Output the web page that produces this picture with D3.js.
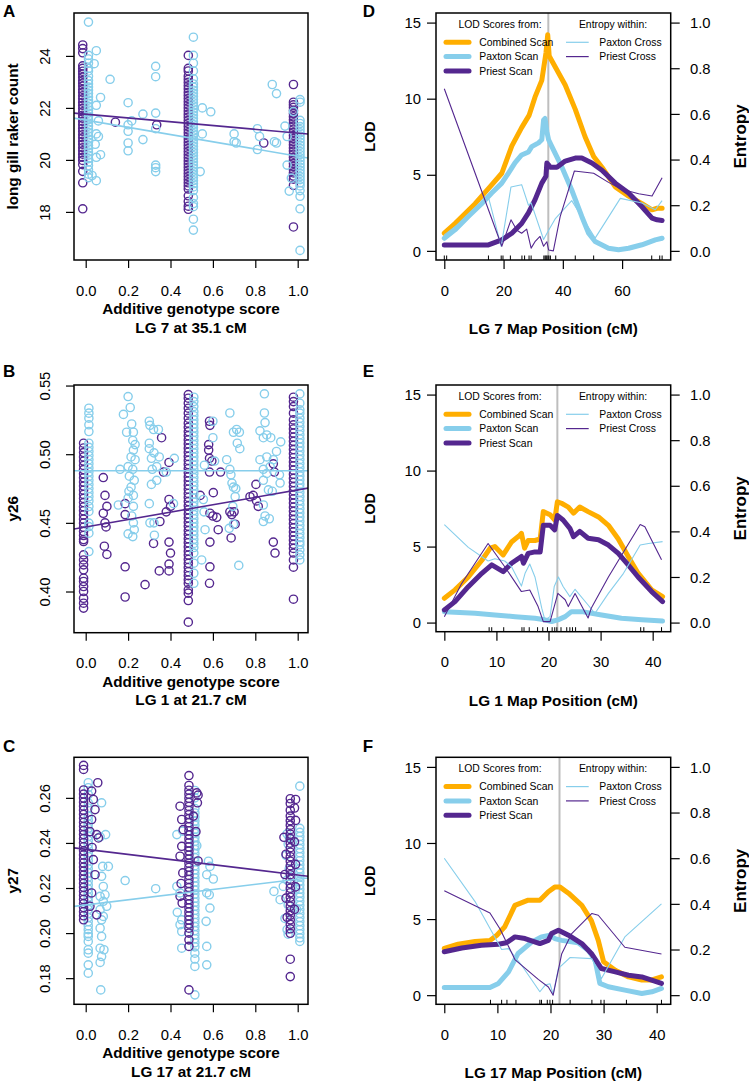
<!DOCTYPE html>
<html><head><meta charset="utf-8">
<script src="https://cdn.jsdelivr.net/npm/d3@7"></script>
<style>body{margin:0;background:#fff}svg{display:block}</style>
</head><body><svg id="c" width="749" height="1082"></svg>
<script>
// ---------------- DATA ----------------
const scoreTicks = [0, 0.2, 0.4, 0.6, 0.8, 1.0];
const A_yTicks = [18, 20, 22, 24];
const B_yTicks = [0.40, 0.45, 0.50, 0.55];
const C_yTicks = [0.18, 0.20, 0.22, 0.24, 0.26];
const lodTicks = [0, 5, 10, 15];
const entTicks = [0, 0.2, 0.4, 0.6, 0.8, 1.0];
const D_xTicks = [0, 20, 40, 60];
const E_xTicks = [0, 10, 20, 30, 40];
const F_xTicks = [0, 10, 20, 30, 40];

// Panel A: long gill raker count
const A_priestColX = [-0.014, 0.484, 0.98];
const A_priestCols = [
 [24.42,24.28,24.12,23.62,23.52,23.41,23.30,23.18,23.05,22.95,22.84,22.71,22.60,22.47,22.35,22.22,22.10,21.98,21.85,21.72,21.60,21.48,21.35,21.22,21.10,20.97,20.85,20.72,20.60,20.47,20.35,20.22,20.10,19.98,19.82,19.56,19.12,18.12],
 [24.02,23.52,23.42,23.22,23.10,22.98,22.85,22.73,22.60,22.48,22.36,22.24,22.12,22.00,21.88,21.76,21.64,21.52,21.40,21.28,21.16,21.04,20.92,20.80,20.68,20.56,20.44,20.32,20.20,20.08,19.96,19.84,19.72,19.60,19.48,19.36,19.24,19.12,19.00,18.88,18.62,18.40,18.22,18.10],
 [22.90,22.22,22.12,22.02,21.90,21.78,21.66,21.54,21.42,21.30,21.18,21.06,20.94,20.82,20.70,20.58,20.46,20.34,20.22,20.10,19.98,19.86,19.74,19.62,19.50,19.38,19.26,19.02,17.42]
];
const A_priestPts = [[0.14,21.45],[0.335,21.35],[0.84,20.65]];
const A_paxtonColX = [0.013, 0.508, 1.011];
const A_paxtonCols = [
 [25.30,24.02,23.88,23.72,23.52,23.42,23.22,23.05,22.92,22.80,22.68,22.55,22.42,22.30,22.18,22.05,21.92,21.80,21.68,21.55,21.42,21.30,21.18,21.05,20.92,20.80,20.68,20.55,20.42,20.30,20.18,20.05,19.92,19.78,19.62,19.45,19.32],
 [24.72,24.02,23.72,23.42,23.12,22.92,22.80,22.68,22.56,22.44,22.32,22.20,22.08,21.96,21.84,21.72,21.60,21.48,21.36,21.24,21.12,21.00,20.88,20.76,20.64,20.52,20.40,20.28,20.16,20.04,19.92,19.80,19.68,19.56,19.44,19.32,19.20,19.08,18.96,18.82,18.55,18.32,18.20,17.72,17.30],
 [22.32,22.22,21.52,21.40,21.28,21.16,21.04,20.92,20.80,20.68,20.56,20.44,20.32,20.20,20.08,19.96,19.84,19.72,19.60,19.48,19.36,19.24,19.12,19.00,18.82,18.60,18.12,16.52]
];
const A_paxtonPts = [[0.05,24.2],[0.04,23.7],[0.07,22.4],[0.05,22.1],[0.06,21.5],[0.05,21.0],[0.06,20.9],[0.045,20.6],[0.07,20.2],[0.05,20.1],[0.05,19.2],[0.03,19.4],[0.115,23.1],[0.2,22.2],[0.217,21.5],[0.2,21.35],[0.2,21.1],[0.2,20.65],[0.2,20.35],[0.27,21.76],[0.27,20.78],[0.33,23.6],[0.33,23.2],[0.33,21.8],[0.33,21.2],[0.33,19.8],[0.33,19.7],[0.33,19.55],[0.54,19.55],[0.55,22.0],[0.59,21.85],[0.55,21.0],[0.7,21.0],[0.7,20.7],[0.71,20.65],[0.81,21.2],[0.82,20.9],[0.81,20.4],[0.88,22.9],[0.9,22.55],[0.89,20.7],[0.9,20.65],[0.94,21.3],[0.95,20.9],[0.95,19.8],[0.98,21.86],[0.97,19.3],[0.96,18.8]];
const A_fitPriest = [21.76, -0.73];
const A_fitPaxton = [21.53, -1.39];

// Panel B: y26
const B_priestColX = [-0.01, 0.484, 0.98];
const B_priestCols = [
 [0.508,0.5045,0.5012,0.498,0.495,0.4918,0.4888,0.4857,0.4828,0.4797,0.4768,0.4738,0.4707,0.4678,0.4648,0.4617,0.4588,0.4558,0.4527,0.4498,0.4468,0.4437,0.4408,0.4378,0.4364,0.4267,0.423,0.4194,0.4158,0.4097,0.4073,0.4036,0.4,0.3951,0.3915,0.3879],
 [0.5434,0.5408,0.5371,0.5335,0.5299,0.5262,0.5226,0.5196,0.5165,0.5135,0.5104,0.5075,0.5044,0.5015,0.4984,0.4955,0.4925,0.4894,0.4865,0.4834,0.4805,0.4774,0.4745,0.4714,0.4685,0.4655,0.4624,0.4595,0.4564,0.4535,0.4504,0.4475,0.4444,0.4415,0.4384,0.4355,0.4325,0.4294,0.4265,0.4234,0.4205,0.4175,0.4144,0.4115,0.4085,0.406,0.4012,0.3988,0.3934,0.3777],
 [0.5415,0.5383,0.5347,0.5299,0.525,0.5214,0.5184,0.5154,0.5124,0.5094,0.5064,0.5034,0.5004,0.4974,0.4944,0.4914,0.4884,0.4854,0.4824,0.4794,0.4764,0.4734,0.4704,0.4674,0.4644,0.4614,0.4584,0.4554,0.4524,0.4494,0.4464,0.4434,0.4404,0.4374,0.4344,0.4314,0.428,0.423,0.4177,0.3944]
];
const B_priestPts = [[0.083,0.483],[0.091,0.47],[0.1,0.462],[0.083,0.457],[0.091,0.45],[0.096,0.447],[0.088,0.433],[0.1,0.427],[0.186,0.464],[0.186,0.456],[0.186,0.418],[0.186,0.396],[0.28,0.405],[0.32,0.435],[0.35,0.451],[0.358,0.512],[0.367,0.487],[0.347,0.415],[0.393,0.494],[0.393,0.467],[0.4,0.462],[0.38,0.458],[0.393,0.436],[0.4,0.428],[0.393,0.42],[0.393,0.415],[0.584,0.524],[0.586,0.521],[0.58,0.507],[0.58,0.503],[0.584,0.497],[0.595,0.495],[0.584,0.487],[0.602,0.472],[0.54,0.47],[0.586,0.457],[0.6,0.455],[0.618,0.454],[0.625,0.445],[0.586,0.436],[0.586,0.418],[0.584,0.406],[0.636,0.487],[0.68,0.458],[0.689,0.456],[0.7,0.458],[0.686,0.439],[0.705,0.449],[0.775,0.469],[0.79,0.47],[0.803,0.478],[0.806,0.466],[0.814,0.462],[0.885,0.493],[0.89,0.487],[0.885,0.436],[0.893,0.428]];
const B_paxtonColX = [0.015, 0.51, 1.01];
const B_paxtonCols = [
 [0.5335,0.5299,0.5262,0.5214,0.5165,0.508,0.505,0.502,0.499,0.496,0.493,0.49,0.487,0.484,0.481,0.478,0.475,0.472,0.469,0.466,0.4619,0.4583,0.4498,0.4473,0.4425,0.4291],
 [0.5415,0.5383,0.5347,0.531,0.528,0.525,0.522,0.519,0.516,0.513,0.51,0.507,0.504,0.501,0.498,0.495,0.492,0.489,0.486,0.483,0.48,0.477,0.474,0.471,0.468,0.465,0.462,0.459,0.456,0.453,0.45,0.447,0.444,0.441,0.438,0.435,0.432,0.428,0.4206,0.4133,0.406],
 [0.5439,0.5371,0.5323,0.5299,0.5262,0.5232,0.5202,0.5172,0.5142,0.5112,0.5082,0.5052,0.5022,0.4992,0.4962,0.4932,0.4902,0.4872,0.4842,0.4812,0.4782,0.4752,0.4722,0.4692,0.4662,0.4632,0.4602,0.4572,0.4542,0.4512,0.4482,0.4452,0.4422,0.4392,0.4362,0.434,0.4303,0.4267,0.423]
];
const B_paxtonPts = [[0.2,0.542],[0.21,0.534],[0.178,0.529],[0.217,0.522],[0.193,0.516],[0.225,0.516],[0.222,0.51],[0.233,0.507],[0.225,0.503],[0.214,0.498],[0.233,0.496],[0.2,0.491],[0.222,0.489],[0.162,0.489],[0.206,0.484],[0.229,0.481],[0.214,0.476],[0.204,0.473],[0.225,0.47],[0.154,0.463],[0.2,0.468],[0.225,0.462],[0.217,0.455],[0.225,0.45],[0.2,0.442],[0.222,0.44],[0.229,0.445],[0.3,0.524],[0.303,0.521],[0.32,0.518],[0.343,0.518],[0.3,0.508],[0.3,0.504],[0.322,0.501],[0.31,0.497],[0.347,0.498],[0.335,0.491],[0.314,0.489],[0.335,0.481],[0.31,0.478],[0.3,0.464],[0.322,0.45],[0.303,0.45],[0.324,0.441],[0.418,0.497],[0.414,0.464],[0.38,0.487],[0.6,0.524],[0.6,0.512],[0.56,0.492],[0.608,0.495],[0.555,0.467],[0.558,0.458],[0.563,0.445],[0.547,0.423],[0.68,0.53],[0.665,0.496],[0.68,0.489],[0.697,0.516],[0.712,0.518],[0.725,0.516],[0.715,0.508],[0.727,0.504],[0.685,0.485],[0.69,0.479],[0.697,0.476],[0.708,0.475],[0.705,0.469],[0.694,0.462],[0.697,0.449],[0.677,0.446],[0.722,0.419],[0.843,0.544],[0.843,0.53],[0.846,0.523],[0.822,0.517],[0.854,0.514],[0.838,0.512],[0.873,0.512],[0.822,0.496],[0.854,0.498],[0.838,0.489],[0.854,0.486],[0.87,0.491],[0.885,0.496],[0.9,0.502],[0.838,0.481],[0.862,0.474],[0.88,0.473],[0.838,0.463],[0.846,0.455],[0.838,0.451],[0.866,0.453],[0.92,0.509],[0.914,0.485],[0.917,0.479]];
const B_fitPriest = [0.447, 0.027];
const B_fitPaxton = [0.488, 0.0];

// Panel C: y27
const C_priestColX = [-0.01, 0.487, 0.965];
const C_priestCols = [
 [0.2744,0.2726,0.2635,0.2617,0.2599,0.2581,0.2563,0.2545,0.2527,0.2509,0.2491,0.2473,0.2455,0.2437,0.2419,0.2401,0.2383,0.2365,0.2347,0.2329,0.2311,0.2293,0.2275,0.2257,0.2239,0.2221,0.2203,0.2185,0.2167,0.2149,0.2131,0.2113,0.2095,0.2077,0.2059],
 [0.2699,0.2655,0.2634,0.2616,0.2598,0.258,0.2562,0.2544,0.2526,0.2508,0.249,0.2472,0.2454,0.2436,0.2418,0.24,0.2382,0.2364,0.2346,0.2328,0.231,0.2292,0.2274,0.2256,0.2238,0.222,0.2202,0.2184,0.2166,0.2148,0.213,0.2112,0.2094,0.2076,0.2058,0.204,0.2022,0.2,0.197,0.1941,0.1748],
 [0.2596,0.2575,0.2545,0.2519,0.2499,0.2479,0.2459,0.2439,0.2419,0.2399,0.2379,0.2359,0.2339,0.2319,0.2299,0.2279,0.2259,0.2239,0.2219,0.2199,0.2179,0.2159,0.2139,0.2119,0.2099,0.2079,0.2059,0.2039,0.2019,0.1999,0.1884,0.1807]
];
const C_priestPts = [[0.057,0.2667],[0.028,0.263],[0.036,0.2593],[0.044,0.2548],[0.028,0.2504],[0.052,0.2437],[0.06,0.2422],[0.036,0.2326],[0.044,0.2259],[0.028,0.2178],[0.02,0.2119],[0.052,0.2081],[0.02,0.245],[0.03,0.238],[0.445,0.2563],[0.453,0.2504],[0.46,0.2459],[0.453,0.2385],[0.445,0.2341],[0.458,0.2267],[0.45,0.222],[0.445,0.2163],[0.455,0.2133],[0.524,0.2622],[0.53,0.2612],[0.508,0.2519],[0.527,0.2578],[0.52,0.245],[0.53,0.232],[0.935,0.2425],[0.945,0.235],[0.94,0.226],[0.99,0.2593],[0.985,0.2555],[0.99,0.25],[0.985,0.2405],[0.99,0.2305],[0.99,0.2205],[0.985,0.2105],[0.945,0.2155],[0.95,0.207]];
const C_paxtonColX = [0.012, 0.515, 1.01];
const C_paxtonCols = [
 [0.2667,0.2645,0.2615,0.2578,0.2555,0.2519,0.2501,0.2483,0.2465,0.2447,0.2429,0.2411,0.2393,0.2375,0.2357,0.2339,0.2321,0.2303,0.2285,0.2267,0.2249,0.2231,0.2213,0.2195,0.2177,0.2159,0.2141,0.2123,0.2105,0.2087,0.2069,0.2051,0.2033,0.2015,0.1997,0.1985,0.1963,0.1926,0.1911,0.1859,0.1822],
 [0.2633,0.26,0.2553,0.2533,0.2515,0.2497,0.2479,0.2461,0.2443,0.2425,0.2407,0.2389,0.2371,0.2353,0.2335,0.2317,0.2299,0.2281,0.2263,0.2245,0.2227,0.2209,0.2191,0.2173,0.2155,0.2137,0.2119,0.2101,0.2083,0.2065,0.2047,0.2029,0.2011,0.1993,0.1975,0.1957,0.1939,0.1911,0.1885,0.1852,0.1726],
 [0.2652,0.2465,0.2447,0.2429,0.2411,0.2393,0.2375,0.2357,0.2339,0.2321,0.2303,0.2285,0.2267,0.2249,0.2231,0.2213,0.2195,0.2177,0.2159,0.2141,0.2123,0.2105,0.2087,0.2069,0.2051,0.2033,0.2015,0.1997,0.1979,0.1963]
];
const C_paxtonPts = [[0.075,0.2578],[0.094,0.2437],[0.068,0.2427],[0.107,0.2296],[0.08,0.2296],[0.075,0.2252],[0.083,0.2207],[0.091,0.217],[0.068,0.2163],[0.083,0.2141],[0.099,0.2119],[0.068,0.2104],[0.083,0.2074],[0.075,0.2059],[0.068,0.2022],[0.075,0.1985],[0.068,0.1933],[0.086,0.1926],[0.075,0.1896],[0.068,0.187],[0.071,0.1748],[0.186,0.2233],[0.33,0.2197],[0.43,0.2437],[0.458,0.2452],[0.43,0.2207],[0.445,0.2178],[0.432,0.2092],[0.453,0.2059],[0.445,0.2037],[0.453,0.2007],[0.453,0.1933],[0.524,0.2388],[0.579,0.2319],[0.586,0.2296],[0.571,0.2259],[0.602,0.224],[0.571,0.2178],[0.583,0.217],[0.586,0.2111],[0.568,0.2052],[0.571,0.1941],[0.571,0.1859],[0.888,0.2185],[0.917,0.2148],[0.932,0.2207],[0.95,0.244],[0.955,0.2395],[0.945,0.2345],[0.96,0.2285],[0.95,0.2235],[0.955,0.2125],[0.94,0.2065],[0.95,0.2015],[0.955,0.1995],[0.99,0.2195],[0.995,0.2105],[0.96,0.2425]];
const C_fitPriest = [0.2372, -0.0114];
const C_fitPaxton = [0.2125, 0.0114];

// Panel D: LG 7 scans  [cM, LOD] and [cM, entropy]
const D_combined = [[0,1.16],[3.6,1.8],[10.4,3.1],[15.4,4.2],[19.4,5.1],[22.8,6.9],[26.1,8.1],[28.6,8.9],[30.6,10.1],[32.9,11.2],[34.3,13.0],[34.9,14.2],[35.4,12.8],[37.4,12.1],[40.8,10.9],[44.2,9.3],[47.5,7.5],[50.4,6.2],[53.2,5.5],[57.7,4.2],[62.2,3.6],[66.7,3.1],[70.1,2.7],[71.8,2.8],[73.5,2.8]];
const D_paxton = [[0,0.83],[3.6,1.38],[8.1,2.26],[12.6,3.1],[16.0,3.8],[19.4,4.45],[21.6,5.1],[23.9,5.8],[26.1,6.3],[28.4,6.5],[29.5,6.85],[31.8,7.1],[32.9,7.3],[33.5,8.6],[34.0,8.7],[34.6,7.85],[35.2,7.3],[36.3,6.85],[39.7,5.5],[43.0,4.0],[46.4,2.26],[48.7,1.16],[50.9,0.61],[55.4,0.17],[58.8,0.07],[62.2,0.17],[66.7,0.4],[71.2,0.72],[73.5,0.83]];
const D_priest = [[0,0.39],[14.9,0.39],[19.4,0.72],[22.8,1.16],[26.1,1.8],[28.4,2.5],[30.6,3.35],[32.9,4.45],[34.3,4.9],[34.6,5.77],[35.2,5.65],[35.7,5.5],[38.0,5.5],[40.8,5.9],[44.2,6.1],[46.4,6.1],[49.8,5.77],[53.2,5.3],[57.7,4.45],[62.2,3.8],[66.7,2.9],[70.1,2.15],[71.8,2.04],[73.5,2.0]];
const D_entPaxton = [[0,0.07],[10,0.17],[15,0.23],[19.2,0.02],[22.5,0.28],[26.1,0.29],[28.4,0.2],[29.3,0.21],[33.5,0.05],[35.2,0.09],[37.4,0.14],[43.0,0.22],[50.9,0.056],[59.4,0.23],[66.7,0.21],[71.2,0.18],[73.5,0.22]];
const D_entPriest = [[0,0.71],[19.4,0.02],[22.5,0.136],[24.5,0.09],[26.1,0.077],[27.8,0.095],[29.3,0.012],[30.6,0.04],[32.3,0.063],[33.5,0.02],[34.6,0.04],[35.2,0.004],[36.8,0.0],[39.1,0.15],[43.9,0.35],[50.4,0.34],[55.4,0.30],[59.9,0.27],[65.6,0.25],[70.1,0.24],[73.5,0.32]];
const D_markers = [0,0.8,14.9,19.2,19.8,22.3,26.2,27.1,28.6,29.3,33.6,34.0,34.3,34.6,35.0,35.3,35.8,37.6,44.2,50.4,70.0,72.7,73.5];

// Panel E: LG 1
const E_combined = [[0,1.6],[2.05,2.15],[4.6,3.0],[7.2,4.1],[8.8,4.9],[9.7,5.0],[11.3,4.45],[12.9,5.3],[14.5,5.75],[14.8,5.87],[15.4,4.9],[16.1,5.4],[17.4,5.4],[18.4,5.5],[19.0,7.3],[20.3,7.1],[21.2,6.75],[21.7,7.95],[22.5,7.85],[23.8,7.6],[24.8,7.2],[26.0,7.6],[27.6,7.3],[29.6,6.95],[31.5,6.4],[33.4,5.5],[35.3,4.35],[37.2,3.25],[39.8,2.15],[41.9,1.7]];
const E_paxton = [[0,0.72],[5.9,0.61],[9.7,0.5],[13.6,0.39],[17.4,0.28],[19.3,0.18],[20.6,0.07],[21.8,0.18],[23.2,0.39],[24.4,0.72],[26.4,0.72],[30.2,0.5],[34.0,0.28],[37.9,0.18],[41.9,0.1]];
const E_priest = [[0,0.83],[2.05,1.38],[4.6,2.36],[7.2,3.24],[9.1,3.8],[11.3,3.35],[12.9,3.9],[14.8,4.35],[15.2,3.9],[16.1,4.55],[17.4,4.65],[18.4,4.65],[19.0,6.4],[20.3,6.4],[21.2,6.1],[21.7,7.05],[22.8,6.75],[24.1,6.2],[24.8,5.65],[26.0,6.0],[27.6,5.55],[29.6,5.45],[31.5,5.1],[33.4,4.55],[35.3,3.8],[37.2,3.0],[39.8,2.04],[41.9,1.38]];
const E_entPaxton = [[0,0.43],[4.6,0.33],[8.4,0.27],[9.7,0.28],[11.6,0.27],[12.9,0.245],[14.8,0.16],[15.5,0.216],[16.4,0.257],[17.4,0.2],[18.7,0.063],[19.3,0.012],[20.3,0.026],[21.1,0.158],[21.9,0.2],[22.8,0.158],[24.1,0.114],[25.1,0.146],[27.6,0.077],[28.9,0.04],[31.5,0.128],[34.4,0.216],[37.6,0.34],[39.2,0.347],[41.9,0.355]];
const E_entPriest = [[0,0.026],[3.3,0.17],[8.4,0.347],[11.6,0.245],[14.8,0.136],[16.4,0.143],[18.0,0.07],[19.0,0.004],[20.3,0.004],[21.8,0.128],[23.2,0.1],[23.8,0.07],[25.1,0.128],[27.6,0.02],[28.2,0.063],[31.5,0.2],[37.6,0.43],[38.5,0.42],[41.7,0.276]];
const E_markers = [8.6,9.1,11.4,14.9,15.3,16.3,17.9,18.9,19.8,20.7,21.2,21.6,22.4,23.5,24.1,24.6,25.2,27.8,28.2,37.7,38.3,41.7];

// Panel F: LG 17
const F_combined = [[0,3.07],[2.6,3.35],[5.8,3.53],[8.6,3.6],[9.9,3.94],[11.4,4.5],[13.3,5.9],[15.8,6.24],[18.0,6.24],[19.6,6.8],[20.8,7.1],[21.8,7.1],[23.4,6.7],[25.9,5.9],[27.7,4.9],[29.0,3.6],[30.0,2.2],[32.2,1.64],[34.7,1.2],[37.2,1.0],[39.1,1.0],[40.9,1.2]];
const F_paxton = [[0,0.5],[8.6,0.5],[10.2,0.77],[12.1,1.53],[13.9,2.74],[16.5,3.5],[18.3,3.83],[19.9,3.94],[20.8,3.72],[22.1,3.6],[25.2,3.44],[27.1,2.96],[28.4,2.3],[29.3,0.77],[30.9,0.55],[34.0,0.33],[37.2,0.11],[39.1,0.22],[40.9,0.44]];
const F_priest = [[0,2.85],[3.3,3.1],[7.0,3.28],[10.2,3.35],[11.7,3.44],[13.3,3.83],[15.2,3.72],[18.0,3.39],[19.6,3.6],[20.2,4.05],[21.5,4.27],[23.4,3.94],[25.9,3.39],[27.7,2.74],[29.6,1.75],[32.2,1.53],[34.7,1.31],[37.2,1.2],[40.9,0.77]];
const F_entPaxton = [[0,0.6],[5.8,0.41],[10.8,0.2],[12.1,0.204],[14.6,0.13],[18.0,0.015],[19.0,0.044],[19.9,0.05],[20.5,0.004],[21.5,0.117],[23.7,0.165],[27.8,0.16],[29.6,0.073],[34.0,0.255],[40.9,0.4]];
const F_entPriest = [[0,0.457],[8.6,0.36],[10.5,0.29],[13.3,0.156],[17.7,0.069],[19.6,0.036],[20.5,0.0],[22.1,0.18],[24.0,0.27],[27.8,0.358],[29.0,0.35],[34.0,0.21],[40.9,0.18]];
const F_markers = [8.7,10.8,11.8,13.5,18.0,18.3,19.4,19.9,20.4,23.7,27.8,29.5,30.1,34.3,40.9];

const qtlPos = [35.1, 21.7, 21.7];
const lodLegend = ["Combined Scan", "Paxton Scan", "Priest Scan"];
const entLegend = ["Paxton Cross", "Priest Cross"];

// ---------------- DRAWING ----------------
const FONT = '"Liberation Sans", Arial, Helvetica, sans-serif';
const PURPLE = '#54278F', BLUE = '#87CEEB', ORANGE = '#FFAE00', GREY = '#BEBEBE';
const TICK_FS = 14.8, TITLE_FS = 15.3;
const svg = d3.select('#c').attr('font-family', FONT);
svg.append('rect').attr('width', 749).attr('height', 1082).attr('fill', '#fff');

function panelLetter(t, x, y) {
  svg.append('text').attr('x', x).attr('y', y).attr('font-size', 17).attr('font-weight', 'bold').text(t);
}
function box(L, T, R, B) {
  svg.append('rect').attr('x', L).attr('y', T).attr('width', R - L).attr('height', B - T)
    .attr('fill', 'none').attr('stroke', '#000').attr('stroke-width', 1.5);
}
function styleAxis(g) {
  g.attr('font-family', FONT).attr('font-size', TICK_FS);
  g.select('.domain').remove();
  g.selectAll('.tick line').attr('stroke-width', 1.2);
  g.selectAll('text').attr('fill', '#000');
}

function scatter(p) {
  const L = 74, R = 308;
  const x = d3.scaleLinear().domain([-0.0552, 1.0486]).range([L, R]);
  const y = d3.scaleLinear().domain(p.yd).range([p.B, p.T]);
  const id = 'clip' + p.letter;
  svg.append('clipPath').attr('id', id).append('rect').attr('x', L).attr('y', p.T).attr('width', R - L).attr('height', p.B - p.T);
  const pg = svg.append('g').attr('clip-path', `url(#${id})`);
  function group(colX, cols, pts, color) {
    const data = [];
    colX.forEach((cx, i) => cols[i].forEach(v => data.push([cx, v])));
    pts.forEach(d => data.push(d));
    pg.append('g').selectAll('circle').data(data).join('circle')
      .attr('cx', d => x(d[0])).attr('cy', d => y(d[1])).attr('r', 4.1)
      .attr('fill', 'none').attr('stroke', color).attr('stroke-width', 1.4);
  }
  p.groups.forEach(gr => group(gr[0], gr[1], gr[2], gr[3]));
  p.fits.forEach(f => {
    const d0 = x.domain();
    pg.append('line').attr('x1', x(d0[0])).attr('y1', y(f[0][0] + f[0][1] * d0[0]))
      .attr('x2', x(d0[1])).attr('y2', y(f[0][0] + f[0][1] * d0[1]))
      .attr('stroke', f[1]).attr('stroke-width', 1.6);
  });
  box(L, p.T, R, p.B);
  const gx = svg.append('g').attr('transform', `translate(0,${p.B})`)
    .call(d3.axisBottom(x).tickValues(scoreTicks).tickSize(8).tickFormat(d3.format('.1f')));
  styleAxis(gx);
  gx.selectAll('text').attr('y', 35.5).attr('dy', null);
  const gy = svg.append('g').attr('transform', `translate(${L},0)`)
    .call(d3.axisLeft(y).tickValues(p.yTicks).tickSize(8).tickFormat(p.fmt));
  styleAxis(gy);
  gy.selectAll('text').attr('x', 0).attr('dy', null).attr('text-anchor', 'middle')
    .attr('transform', `translate(${50 - L},0) rotate(-90)`);
  svg.append('text').attr('transform', `translate(18,${(p.T + p.B) / 2}) rotate(-90)`)
    .attr('text-anchor', 'middle').attr('font-size', TITLE_FS).attr('font-weight', 'bold').text(p.ylab);
  svg.append('text').attr('x', (L + R) / 2).attr('y', p.B + 54).attr('text-anchor', 'middle')
    .attr('font-size', TITLE_FS).attr('font-weight', 'bold').text('Additive genotype score');
  svg.append('text').attr('x', (L + R) / 2).attr('y', p.B + 72.5).attr('text-anchor', 'middle')
    .attr('font-size', TITLE_FS).attr('font-weight', 'bold').text(p.xlab2);
}

function lodPanel(p) {
  const L = 436, R = 670.7;
  const x = d3.scaleLinear().domain(p.xd).range([L, R]);
  const y = d3.scaleLinear().domain([-0.6, 15.63]).range([p.B, p.T]);
  const ye = d3.scaleLinear().domain([-0.04, 1.042]).range([p.B, p.T]);
  const id = 'clip' + p.letter;
  svg.append('clipPath').attr('id', id).append('rect').attr('x', L).attr('y', p.T).attr('width', R - L).attr('height', p.B - p.T);
  const pg = svg.append('g').attr('clip-path', `url(#${id})`);
  // legend
  const lg = svg.append('g').attr('font-size', 10.4);
  lg.append('text').attr('x', 500).attr('y', p.T + 15).attr('text-anchor', 'middle').text('LOD Scores from:');
  lg.append('text').attr('x', 613).attr('y', p.T + 15).attr('text-anchor', 'middle').text('Entropy within:');
  const lcol = [ORANGE, BLUE, PURPLE];
  lodLegend.forEach((t, i) => {
    const yy = p.T + 33 + i * 14.3;
    lg.append('line').attr('x1', 446).attr('x2', 469).attr('y1', yy - 3.7).attr('y2', yy - 3.7)
      .attr('stroke', lcol[i]).attr('stroke-width', 5).attr('stroke-linecap', 'round');
    lg.append('text').attr('x', 479.3).attr('y', yy).text(t);
  });
  const ecol = [BLUE, PURPLE];
  entLegend.forEach((t, i) => {
    const yy = p.T + 33 + i * 14.3;
    lg.append('line').attr('x1', 566).attr('x2', 588.7).attr('y1', yy - 3.7).attr('y2', yy - 3.7)
      .attr('stroke', ecol[i]).attr('stroke-width', 1.2);
    lg.append('text').attr('x', 599.3).attr('y', yy).text(t);
  });
  // QTL line
  pg.append('line').attr('x1', x(p.qtl)).attr('x2', x(p.qtl)).attr('y1', p.T).attr('y2', p.B)
    .attr('stroke', GREY).attr('stroke-width', 2);
  const line = d3.line().x(d => x(d[0])).y(d => y(d[1]));
  const eline = d3.line().x(d => x(d[0])).y(d => ye(d[1]));
  [[p.combined, ORANGE], [p.paxton, BLUE], [p.priest, PURPLE]].forEach(s => {
    pg.append('path').attr('d', line(s[0])).attr('fill', 'none').attr('stroke', s[1])
      .attr('stroke-width', 5).attr('stroke-linejoin', 'round').attr('stroke-linecap', 'round');
  });
  [[p.entPax, BLUE], [p.entPri, PURPLE]].forEach(s => {
    pg.append('path').attr('d', eline(s[0])).attr('fill', 'none').attr('stroke', s[1])
      .attr('stroke-width', 1.1).attr('stroke-linejoin', 'round');
  });
  // rug of markers
  svg.append('g').selectAll('line').data(p.markers).join('line')
    .attr('x1', d => x(d)).attr('x2', d => x(d)).attr('y1', p.B).attr('y2', p.B - 4.5)
    .attr('stroke', '#000').attr('stroke-width', 1);
  box(L, p.T, R, p.B);
  const gx = svg.append('g').attr('transform', `translate(0,${p.B})`)
    .call(d3.axisBottom(x).tickValues(p.xTicks).tickSize(9).tickFormat(d3.format('d')));
  styleAxis(gx);
  gx.selectAll('text').attr('y', 35.5).attr('dy', null);
  const gy = svg.append('g').attr('transform', `translate(${L},0)`)
    .call(d3.axisLeft(y).tickValues(lodTicks).tickSize(9).tickFormat(d3.format('d')));
  styleAxis(gy);
  gy.selectAll('text').attr('x', -15).attr('dy', '0.35em');
  const gr = svg.append('g').attr('transform', `translate(${R},0)`)
    .call(d3.axisRight(ye).tickValues(entTicks).tickSize(9).tickFormat(d3.format('.1f')));
  styleAxis(gr);
  gr.selectAll('text').attr('x', 19.3).attr('dy', '0.35em');
  svg.append('text').attr('transform', `translate(375,${(p.T + p.B) / 2}) rotate(-90)`)
    .attr('text-anchor', 'middle').attr('font-size', 14.5).attr('font-weight', 'bold').text('LOD');
  svg.append('text').attr('transform', `translate(746,${(p.T + p.B) / 2}) rotate(-90)`)
    .attr('text-anchor', 'middle').attr('font-size', 17).attr('font-weight', 'bold').text('Entropy');
  svg.append('text').attr('x', (L + R) / 2).attr('y', p.B + 74).attr('text-anchor', 'middle')
    .attr('font-size', TITLE_FS).attr('font-weight', 'bold').text(p.xlab);
}

scatter({letter: 'A', T: 13, B: 260, yd: [16.15, 25.65], yTicks: A_yTicks, fmt: d3.format('d'),
  ylab: 'long gill raker count', xlab2: 'LG 7 at 35.1 cM',
  groups: [[A_priestColX, A_priestCols, A_priestPts, PURPLE], [A_paxtonColX, A_paxtonCols, A_paxtonPts, BLUE]],
  fits: [[A_fitPaxton, BLUE], [A_fitPriest, PURPLE]]});
scatter({letter: 'B', T: 385, B: 632.7, yd: [0.370, 0.5504], yTicks: B_yTicks, fmt: d3.format('.2f'),
  ylab: 'y26', xlab2: 'LG 1 at 21.7 cM',
  groups: [[B_priestColX, B_priestCols, B_priestPts, PURPLE], [B_paxtonColX, B_paxtonCols, B_paxtonPts, BLUE]],
  fits: [[B_fitPaxton, BLUE], [B_fitPriest, PURPLE]]});
scatter({letter: 'C', T: 757.3, B: 1004.3, yd: [0.1684, 0.278], yTicks: C_yTicks, fmt: d3.format('.2f'),
  ylab: 'y27', xlab2: 'LG 17 at 21.7 cM',
  groups: [[C_paxtonColX, C_paxtonCols, C_paxtonPts, BLUE], [C_priestColX, C_priestCols, C_priestPts, PURPLE]],
  fits: [[C_fitPaxton, BLUE], [C_fitPriest, PURPLE]]});

lodPanel({letter: 'D', T: 13, B: 260, xd: [-2.8, 76.4], xTicks: D_xTicks, qtl: qtlPos[0],
  combined: D_combined, paxton: D_paxton, priest: D_priest, entPax: D_entPaxton, entPri: D_entPriest,
  markers: D_markers, xlab: 'LG 7 Map Position (cM)'});
lodPanel({letter: 'E', T: 385, B: 631.7, xd: [-1.6, 43.46], xTicks: E_xTicks, qtl: qtlPos[1],
  combined: E_combined, paxton: E_paxton, priest: E_priest, entPax: E_entPaxton, entPri: E_entPriest,
  markers: E_markers, xlab: 'LG 1 Map Position (cM)'});
lodPanel({letter: 'F', T: 757.3, B: 1004.3, xd: [-1.56, 42.64], xTicks: F_xTicks, qtl: qtlPos[2],
  combined: F_combined, paxton: F_paxton, priest: F_priest, entPax: F_entPaxton, entPri: F_entPriest,
  markers: F_markers, xlab: 'LG 17 Map Position (cM)'});

panelLetter('A', 3, 16.7); panelLetter('B', 3, 376.7); panelLetter('C', 3, 751.7);
panelLetter('D', 362.7, 16.7); panelLetter('E', 362.7, 376.7); panelLetter('F', 362.7, 751.7);
</script></body></html>
